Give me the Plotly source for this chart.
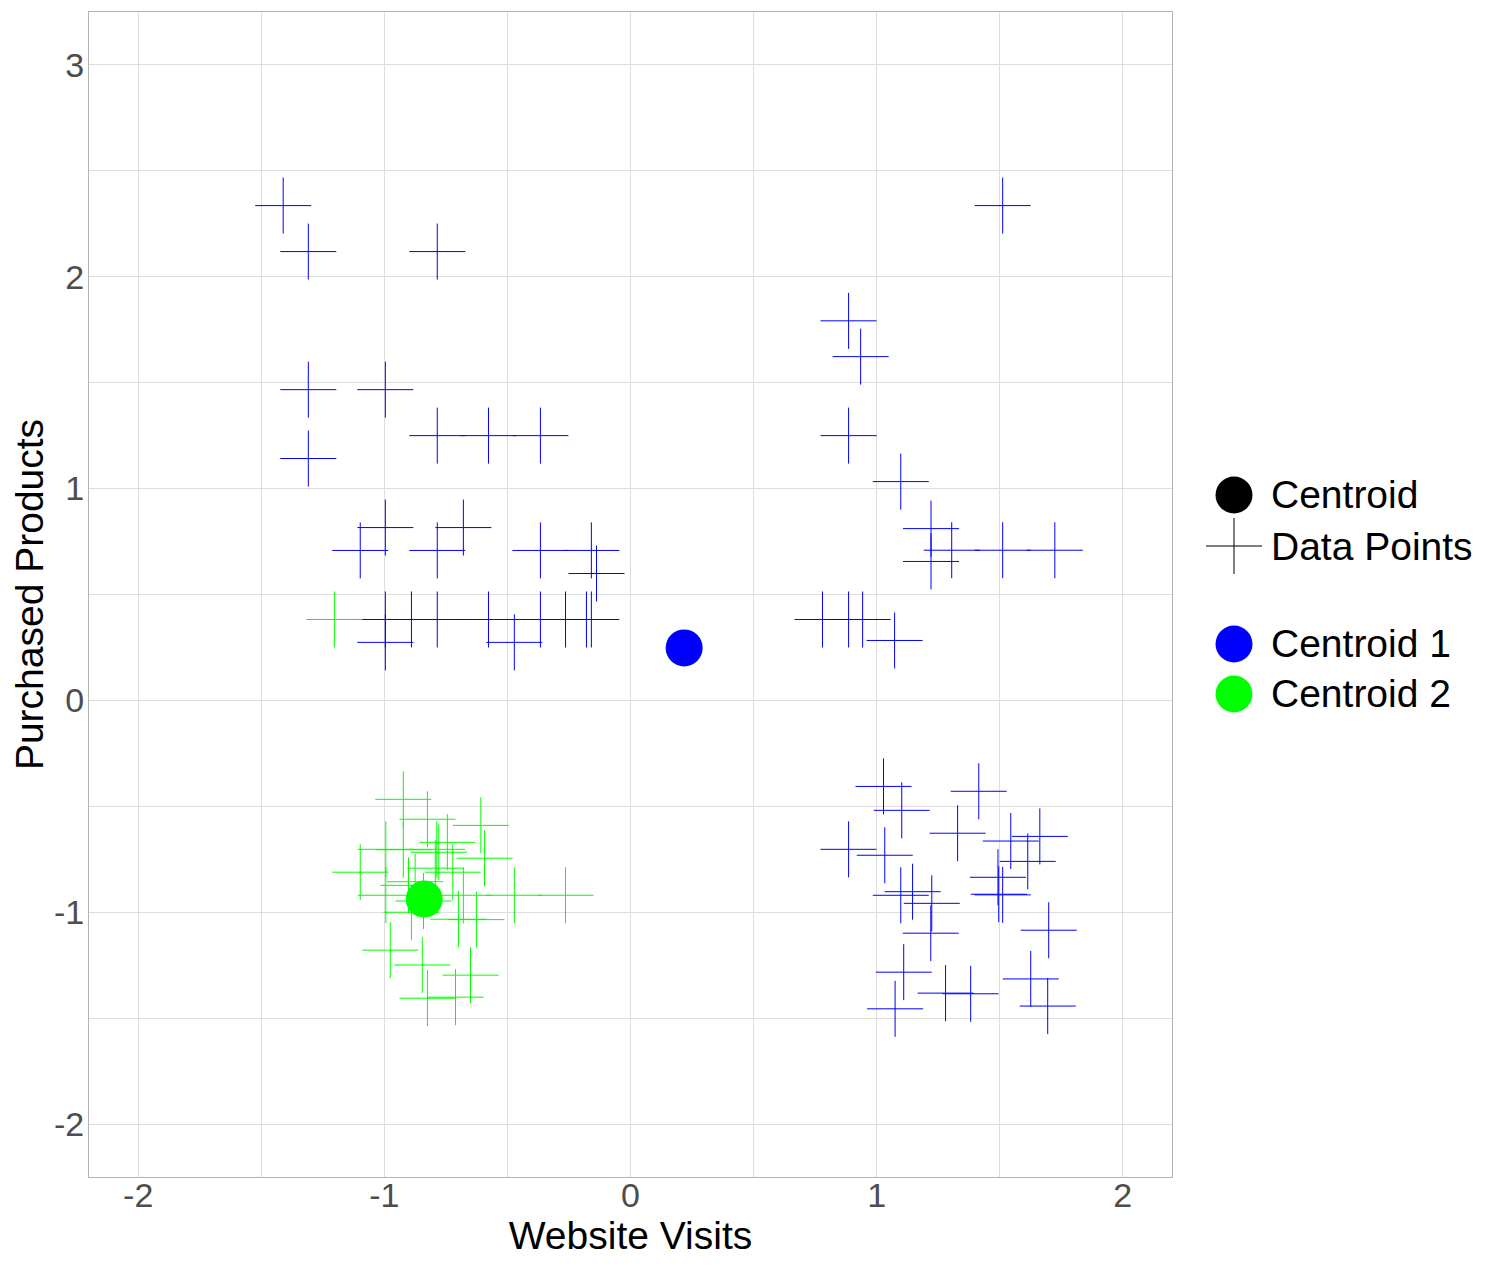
import plotly.graph_objects as go

# cluster 1 data points (blue)
c1_x = [-1.411, -1.309, -0.785, -1.309, -0.996, -0.785, -0.577, -0.366, -1.309,
        -0.996, -1.098, -0.679, -0.785, -0.366, -0.159, -0.138,
        -0.996, -0.890, -0.785, -0.577, -0.366, -0.264, -0.179, -0.159,
        -0.996, -0.472,
        1.512, 0.886, 0.935, 0.886, 1.098, 1.221, 1.221, 1.305, 1.512, 1.724,
        0.780, 0.886, 0.943, 1.073,
        1.028, 1.102, 1.415, 0.886, 1.033, 1.329, 1.545, 1.663, 1.614, 1.098,
        1.146, 1.224, 1.220, 1.493, 1.496, 1.512, 1.699, 1.110, 1.075, 1.280,
        1.382, 1.626, 1.695]
c1_y = [2.336, 2.119, 2.119, 1.467, 1.467, 1.250, 1.250, 1.250, 1.142,
        0.816, 0.708, 0.816, 0.708, 0.708, 0.708, 0.599,
        0.382, 0.382, 0.382, 0.382, 0.382, 0.382, 0.382, 0.382,
        0.274, 0.274,
        2.336, 1.792, 1.623, 1.250, 1.033, 0.811, 0.656, 0.709, 0.709, 0.709,
        0.382, 0.382, 0.382, 0.283,
        -0.406, -0.519, -0.429, -0.703, -0.731, -0.627, -0.664, -0.642, -0.760, -0.920,
        -0.903, -0.958, -1.099, -0.835, -0.915, -0.918, -1.085, -1.283, -1.456, -1.382,
        -1.385, -1.315, -1.443]

# cluster 2 data points (green)
c2_x = [-1.203, -0.923, -0.825, -0.608, -0.744, -0.787, -0.779, -0.994, -0.923,
        -1.098, -0.593, -0.722, -0.679, -0.793, -0.902, -0.875, -0.841, -0.472,
        -0.264, -0.699, -0.626, -0.890, -0.976, -0.846, -0.650, -0.711, -0.825,
        -0.994]
c2_y = [0.382, -0.467, -0.561, -0.590, -0.670, -0.703, -0.717, -0.703, -0.705,
        -0.811, -0.745, -0.811, -0.920, -0.792, -0.873, -0.856, -0.947, -0.920,
        -0.920, -1.033, -1.035, -1.000, -1.179, -1.249, -1.297, -1.401, -1.406,
        -0.920]

centroid_x = [0.218, -0.838]
centroid_y = [0.248, -0.938]
centroid_names = ["Centroid 1", "Centroid 2"]
colors = ["#0000FF", "#00FF00"]

x_ticks = [-2, -1, 0, 1, 2]
y_ticks = [-2, -1, 0, 1, 2, 3]

legend_labels = ["Centroid", "Data Points", "Centroid 1", "Centroid 2"]
legend_colors = ["black", "black", colors[0], colors[1]]

FONT = "Liberation Sans, Arial, sans-serif"
PAGE_PAD = 8  # default body margin of the html page
W, H = 1490, 1262
ML, MR, MT, MB = 81, 326, 4, 93
PW, PH = W - ML - MR, H - MT - MB

fig = go.Figure()

for xs, ys, col in [(c1_x, c1_y, colors[0]), (c2_x, c2_y, colors[1])]:
    fig.add_trace(go.Scatter(
        x=xs, y=ys, mode="markers", showlegend=False,
        marker=dict(symbol="cross-thin", size=40, color=col,
                    line=dict(color=col, width=1))
    ))

fig.add_trace(go.Scatter(
    x=centroid_x, y=centroid_y, mode="markers", showlegend=False,
    text=centroid_names,
    marker=dict(symbol="circle", size=37, color=colors, line=dict(width=0))
))

# hand-built legend (plotly caps legend marker size)
def paper_x(px):
    return (px - PAGE_PAD - ML) / PW

def paper_y(py):
    return (H - MB - (py - PAGE_PAD)) / PH

leg_sym_x = 1234
leg_text_x = 1269
leg_rows = [495, 546, 644, 694]

shapes = []
annotations = []
for lab, col, py in zip(legend_labels, legend_colors, leg_rows):
    if lab == "Data Points":
        for dx0, dx1, dy0, dy1 in [(-28, 28, 0, 0), (0, 0, -28, 28)]:
            shapes.append(dict(type="line", xref="paper", yref="paper",
                               xsizemode="pixel", ysizemode="pixel",
                               xanchor=paper_x(leg_sym_x), yanchor=paper_y(py),
                               x0=dx0, x1=dx1, y0=dy0, y1=dy1,
                               line=dict(color=col, width=1)))
    else:
        shapes.append(dict(type="circle", xref="paper", yref="paper",
                           xsizemode="pixel", ysizemode="pixel",
                           xanchor=paper_x(leg_sym_x), yanchor=paper_y(py),
                           x0=-18.5, x1=18.5, y0=-18.5, y1=18.5,
                           fillcolor=col, line=dict(width=0)))
    annotations.append(dict(text=lab, xref="paper", yref="paper",
                            x=paper_x(leg_text_x), y=paper_y(py),
                            xanchor="left", yanchor="middle", showarrow=False,
                            font=dict(family=FONT, size=39, color="black")))

axis_common = dict(
    showgrid=True, gridcolor="#dedede", gridwidth=1,
    zeroline=False, showline=True, mirror=True, linecolor="#b3b3b3", linewidth=1,
    ticks="", automargin=False,
    tickfont=dict(family=FONT, size=34, color="#4d4d4d"),
    minor=dict(dtick=0.5, showgrid=True, gridcolor="#dedede", gridwidth=1),
)

fig.update_layout(
    width=W, height=H,
    margin=dict(l=ML, r=MR, t=MT, b=MB),
    paper_bgcolor="white", plot_bgcolor="white",
    font=dict(family=FONT),
    showlegend=False,
    shapes=shapes,
    annotations=annotations,
    xaxis=dict(axis_common, range=[-2.2, 2.2],
               tickmode="array", tickvals=x_ticks,
               ticktext=[str(v) for v in x_ticks], ticklabelstandoff=-12,
               title=dict(text="Website Visits", standoff=4,
                          font=dict(family=FONT, size=39, color="black"))),
    yaxis=dict(axis_common, range=[-2.25, 3.25],
               tickmode="array", tickvals=y_ticks,
               ticktext=[str(v) for v in y_ticks], ticklabelstandoff=-3,
               title=dict(text="Purchased Products", standoff=9,
                          font=dict(family=FONT, size=39, color="black"))),
)

fig.write_html("out.html")
